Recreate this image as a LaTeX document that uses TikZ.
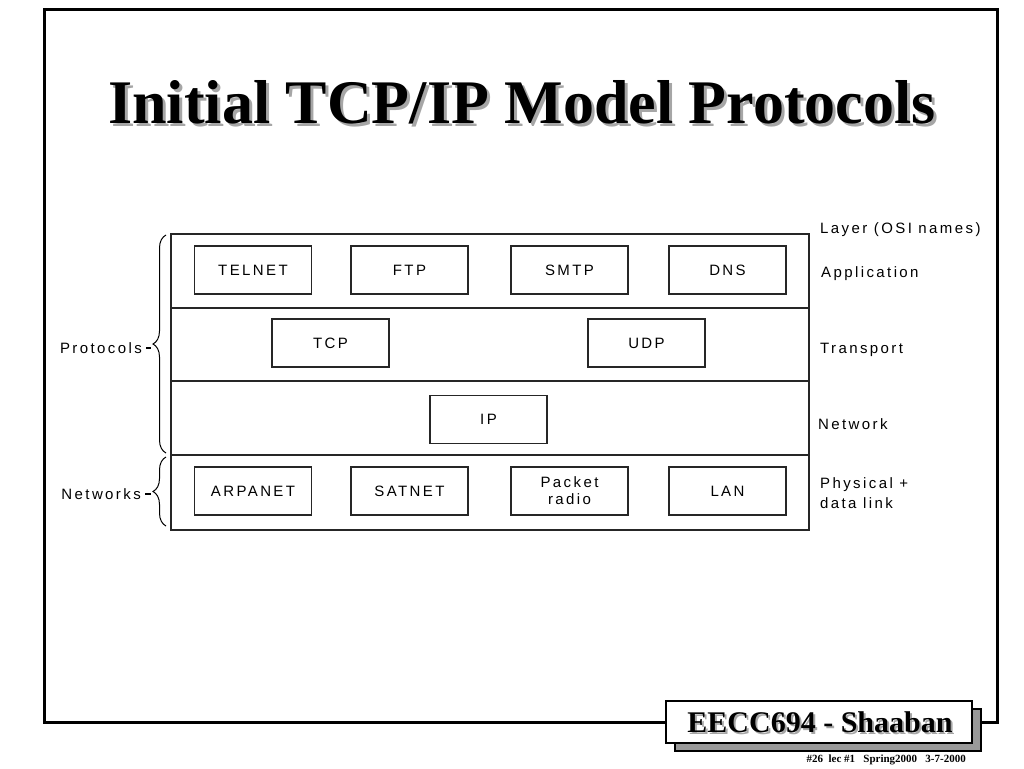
\documentclass[tikz,border=0pt]{standalone}
\usepackage{fontspec}
\setmainfont{Liberation Serif}
\newfontfamily\diagfont[LetterSpace=16]{Liberation Sans}
\usetikzlibrary{positioning,decorations.pathreplacing}

\begin{document}
\begin{tikzpicture}[x=1pt, y=-1pt,
		layerrow/.style={draw=black!85, line width=1.3pt, minimum width=638pt, inner sep=0pt, outer sep=0pt},
		proto/.style={draw=black!85, line width=1.3pt, minimum width=117pt, minimum height=48pt, inner sep=0pt, align=center, font=\diagfont\fontsize{15}{17}\selectfont},
		osi/.style={anchor=base west, inner sep=0pt, font=\diagfont\fontsize{15}{17}\selectfont},
		side/.style={anchor=east, inner sep=0pt, font=\diagfont\fontsize{15}{17}\selectfont},
		brace/.style={line width=1pt, decorate, decoration={brace, amplitude=13pt}},
		titletxt/.style={anchor=base, inner sep=0pt, font=\bfseries\fontsize{62}{62}\selectfont},
		badgetxt/.style={anchor=base, inner sep=0pt, font=\bfseries\fontsize{30}{30}\selectfont}]
	\useasboundingbox (0,0) rectangle (1024,768);

	% title with its shadow
	\node[titletxt, text=black!35] (titleshadow) at (525,126) {Initial TCP/IP Model Protocols};
	\node[titletxt] (title) at (522,123) {Initial TCP/IP Model Protocols};

	% the four layers
	\node[layerrow, minimum height=74pt] (app) at (490,271) {};
	\node[layerrow, minimum height=73pt, below=0pt of app] (trans) {};
	\node[layerrow, minimum height=74pt, below=0pt of trans] (net) {};
	\node[layerrow, minimum height=75pt, below=0pt of net] (link) {};

	\node[proto] (telnet) at (253,270) {TELNET};
	\node[proto] (ftp) at (409.5,270) {FTP};
	\node[proto] (smtp) at (569.5,270) {SMTP};
	\node[proto] (dns) at (727.5,270) {DNS};

	\node[proto] (tcp) at (330.5,343) {TCP};
	\node[proto] (udp) at (646.5,343) {UDP};

	\node[proto] (ip) at (488.5,419.5) {IP};

	\node[proto] (arpanet) at (253,491) {ARPANET};
	\node[proto] (satnet) at (409.5,491) {SATNET};
	\node[proto] (radio) at (569.5,491) {Packet\\radio};
	\node[proto] (lan) at (727.5,491) {LAN};

	% OSI names on the right
	\node[osi] (layerhead) at (820,233) {Layer (OSI names)};
	\node[osi] (application) at (821,277) {Application};
	\node[osi] (transport) at (820,353) {Transport};
	\node[osi] (network) at (818,429) {Network};
	\node[osi] (physical) at (820,488) {Physical +};
	\node[osi] (datalink) at (820,508) {data link};

	% braces on the left
	\draw[brace] (166,453) -- (166,235);
	\draw[brace] (166,526) -- (166,457);
	\coordinate (prototip) at (151,348);
	\coordinate (nettip) at (151,494);
	\node[side] (protocols) at (142,348) {Protocols};
	\node[side] (networks) at (141,494) {Networks};
	\draw[line width=1.2pt, shorten <=4pt] (protocols.east) -- (prototip);
	\draw[line width=1.2pt, shorten <=4pt] (networks.east) -- (nettip);

	% badge in the lower right
	\node[draw, line width=1.2pt, fill=black!40, minimum width=306pt, minimum height=42pt] (badgeshadow) at (828,730) {};
	\node[draw, line width=1.2pt, fill=white, minimum width=306pt, minimum height=42pt] (badge) at (819,722) {};
	\node[badgetxt, text=black!35] (badgeshade) at (822,734) {EECC694 - Shaaban};
	\node[badgetxt] (badgetext) at (820,732) {EECC694 - Shaaban};

	% slide frame
	\draw[line width=3pt] (badge.west) -- (44,722) -- (44,10) -- (997,10) -- (997,722) -- (badgeshadow.east |- badge.east);

	\node[anchor=base east, inner sep=0pt, font=\bfseries\fontsize{11}{11}\selectfont] (footer) at (966,762) {\#26\ \ lec \#1\ \ \ Spring2000\ \ \ 3-7-2000};
\end{tikzpicture}
\end{document}
